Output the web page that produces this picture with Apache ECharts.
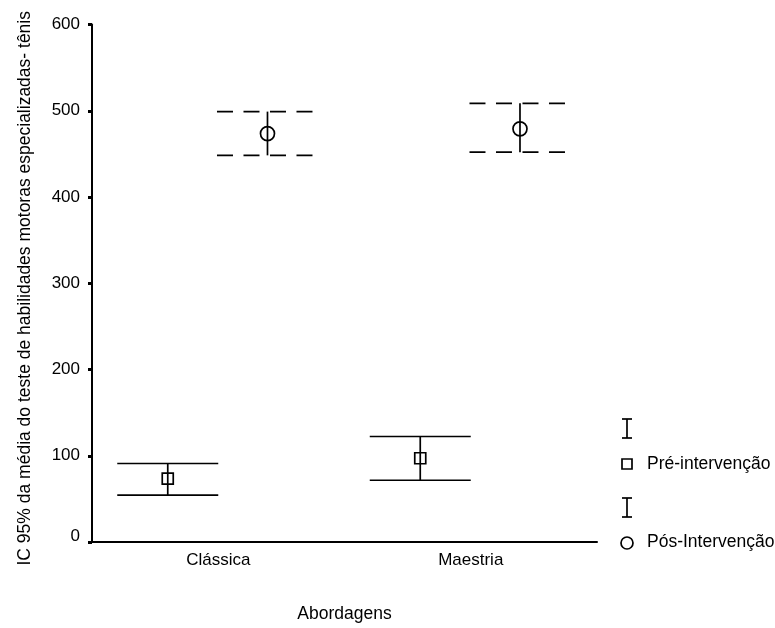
<!DOCTYPE html>
<html>
<head>
<meta charset="utf-8">
<script src="https://cdn.jsdelivr.net/npm/echarts@6/dist/echarts.min.js"></script>
<style>
html,body{margin:0;padding:0;background:#fff;}
#chart{width:775px;height:628px;}
</style>
</head>
<body>
<div id="chart"></div>
<script>
// ---- Data ----
const categories = ['Clássica', 'Maestria'];
const preMean = [73.5, 97.1];
const preLow  = [54.4, 71.6];
const preHigh = [91.0, 122.3];
const postMean = [473.5, 479.0];
const postLow  = [448.3, 452.0];
const postHigh = [499.0, 508.6];
const yTicks = [0, 100, 200, 300, 400, 500, 600];
const legendNames = ['Pré-intervenção', 'Pós-Intervenção'];
const xTitle = 'Abordagens';
const yTitle = 'IC 95% da média do teste de habilidades motoras especializadas- tênis';

const FONT = '"Liberation Sans", Arial, sans-serif';
const FS = 17;
const LW = 1.7;

const preData = categories.map((c, i) => [i, preLow[i], preHigh[i], preMean[i]]);
const postData = categories.map((c, i) => [i, postLow[i], postHigh[i], postMean[i]]);

function makeRender(offsetFrac, dashed, marker) {
  return function (params, api) {
    const ci = api.value(0);
    const lo = api.coord([ci, api.value(1)]);
    const hi = api.coord([ci, api.value(2)]);
    const md = api.coord([ci, api.value(3)]);
    const band = api.size([1, 0])[0];
    const x = lo[0] + offsetFrac * band;
    const half = 0.2 * band;
    const lineStyle = { stroke: '#000', lineWidth: LW, fill: null };
    const capStyle = dashed
      ? { stroke: '#000', lineWidth: LW, lineDash: [16, 10.5], fill: null }
      : lineStyle;
    const children = [
      { type: 'line', shape: { x1: x, y1: hi[1], x2: x, y2: lo[1] }, style: lineStyle },
      { type: 'line', shape: { x1: x - half, y1: hi[1], x2: x + half, y2: hi[1] }, style: capStyle },
      { type: 'line', shape: { x1: x - half, y1: lo[1], x2: x + half, y2: lo[1] }, style: capStyle }
    ];
    if (marker === 'square') {
      children.push({ type: 'rect', shape: { x: x - 5.5, y: md[1] - 5.5, width: 11, height: 11 },
        style: { stroke: '#000', lineWidth: LW, fill: 'rgba(0,0,0,0)' } });
    } else {
      children.push({ type: 'circle', shape: { cx: x, cy: md[1], r: 7 },
        style: { stroke: '#000', lineWidth: LW, fill: 'rgba(0,0,0,0)' } });
    }
    return { type: 'group', children: children };
  };
}

const chart = echarts.init(document.getElementById('chart'), null, { renderer: 'canvas' });

const option = {
  backgroundColor: '#fff',
  animation: false,
  textStyle: { fontFamily: FONT },
  grid: { left: 92, right: 178, top: 24.5, bottom: 79.5, containLabel: false },
  xAxis: {
    type: 'category',
    data: categories,
    boundaryGap: true,
    name: xTitle,
    nameLocation: 'middle',
    nameGap: 63,
    nameTextStyle: { color: '#000', fontSize: 17.5, fontFamily: FONT },
    axisLine: { lineStyle: { color: '#000', width: 2 } },
    axisTick: { alignWithLabel: true, length: 4, lineStyle: { color: '#000', width: 3 } },
    axisLabel: { color: '#000', fontSize: FS, fontFamily: FONT, margin: 10 },
    splitLine: { show: false }
  },
  yAxis: {
    type: 'value',
    min: yTicks[0],
    max: yTicks[yTicks.length - 1],
    interval: 100,
    name: yTitle,
    nameLocation: 'middle',
    nameGap: 58,
    nameTextStyle: { color: '#000', fontSize: 17.5, fontFamily: FONT, padding: [0, 10, 0, 0] },
    axisLine: { show: true, lineStyle: { color: '#000', width: 2 } },
    axisTick: { show: true, length: 4, lineStyle: { color: '#000', width: 3 } },
    axisLabel: {
      color: '#000', fontSize: FS, fontFamily: FONT, margin: 12,
      formatter: function (v) { return v === 0 ? '{z|0}' : String(v); },
      rich: { z: { fontSize: FS, fontFamily: FONT, color: '#000', padding: [0, 0, 12, 0] } }
    },
    splitLine: { show: false }
  },
  series: [
    {
      name: legendNames[0],
      type: 'custom',
      renderItem: makeRender(-0.2, false, 'square'),
      data: preData,
      encode: { x: 0, y: [1, 2, 3] },
      z: 10
    },
    {
      name: legendNames[1],
      type: 'custom',
      renderItem: makeRender(0.195, true, 'circle'),
      data: postData,
      encode: { x: 0, y: [1, 2, 3] },
      z: 10
    }
  ],
  graphic: [
    // legend: pre
    { type: 'line', shape: { x1: 627, y1: 419, x2: 627, y2: 438 }, style: { stroke: '#000', lineWidth: LW } },
    { type: 'line', shape: { x1: 622, y1: 419, x2: 632, y2: 419 }, style: { stroke: '#000', lineWidth: LW } },
    { type: 'line', shape: { x1: 622, y1: 438, x2: 632, y2: 438 }, style: { stroke: '#000', lineWidth: LW } },
    { type: 'rect', shape: { x: 622, y: 459, width: 10, height: 10 }, style: { stroke: '#000', lineWidth: LW, fill: 'rgba(0,0,0,0)' } },
    { type: 'text', x: 647, y: 464, style: { text: legendNames[0], fill: '#000', font: '17.5px ' + FONT, textVerticalAlign: 'middle', verticalAlign: 'middle' } },
    // legend: post
    { type: 'line', shape: { x1: 627, y1: 498, x2: 627, y2: 517 }, style: { stroke: '#000', lineWidth: LW } },
    { type: 'line', shape: { x1: 622, y1: 498, x2: 632, y2: 498 }, style: { stroke: '#000', lineWidth: LW } },
    { type: 'line', shape: { x1: 622, y1: 517, x2: 632, y2: 517 }, style: { stroke: '#000', lineWidth: LW } },
    { type: 'circle', shape: { cx: 627, cy: 543, r: 6 }, style: { stroke: '#000', lineWidth: LW, fill: 'rgba(0,0,0,0)' } },
    { type: 'text', x: 647, y: 542, style: { text: legendNames[1], fill: '#000', font: '17.5px ' + FONT, textVerticalAlign: 'middle', verticalAlign: 'middle' } }
  ]
};

chart.setOption(option);
</script>
</body>
</html>
